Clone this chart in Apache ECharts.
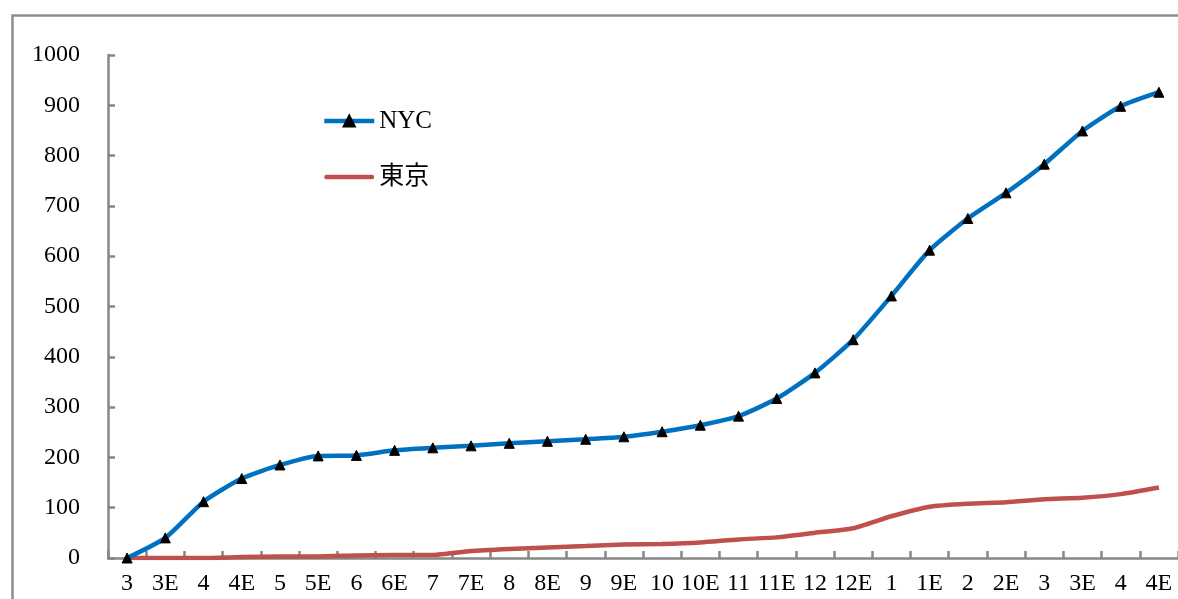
<!DOCTYPE html>
<html>
<head>
<meta charset="utf-8">
<style>
  html, body { margin: 0; padding: 0; background: #fff; }
  #chart { width: 1178px; height: 599px; }
</style>
<script src="https://cdn.jsdelivr.net/npm/echarts@6/dist/echarts.min.js"></script>
</head>
<body>
<div id="chart"></div>
<script>
// Month labels (E = end of month) spanning two years
const categories = ['3','3E','4','4E','5','5E','6','6E','7','7E','8','8E','9','9E','10','10E','11','11E','12','12E','1','1E','2','2E','3','3E','4','4E'];

// Cumulative counts per city
const nycValues = [0,40,112,158,185,203,204,214,219,223,228,232,236,241,251,264,282,317,368,434,521,612,675,726,783,849,898,926];
const tokyoValues = [0,0,0,2,3,3,5,6,6,14,18,21,24,27,28,31,37,41,50,59,83,102,108,111,117,120,127,140];

const seriesNames = ['NYC', '東京'];
const yTicks = { min: 0, max: 1000, interval: 100 };

const FONT = "'Liberation Serif', 'Times New Roman', 'Noto Sans CJK JP', serif";
const AXIS_GREY = '#878787';
const NYC_BLUE = '#0070C0';
const TOKYO_RED = '#C0504D';

const chart = echarts.init(document.getElementById('chart'), null, { renderer: 'canvas' });

chart.setOption({
  backgroundColor: '#fff',
  animation: false,
  graphic: [{
    type: 'rect',
    left: 10, top: 13,
    shape: { width: 1220, height: 700 },
    style: { fill: 'none', stroke: '#8e8e8e', lineWidth: 2.5 },
    silent: true,
    z: -1
  }],
  legend: {
    orient: 'vertical',
    left: 322,
    top: 107,
    padding: 0,
    itemWidth: 50,
    itemHeight: 14,
    itemGap: 28,
    lineStyle: { width: 4.5 },
    textStyle: { fontFamily: FONT, fontSize: 25, color: '#000', lineHeight: 28 },
    data: [
      { name: seriesNames[0] },
      { name: seriesNames[1], icon: 'path://M2,0 L48,0 A2,2 0 0 1 48,4.5 L2,4.5 A2,2 0 0 1 2,0 Z', itemStyle: { color: TOKYO_RED } }
    ]
  },
  grid: { left: 108, right: -2, top: 55, bottom: 41, containLabel: false },
  xAxis: {
    type: 'category',
    data: categories,
    boundaryGap: true,
    axisLine: { lineStyle: { color: AXIS_GREY, width: 2.5 } },
    axisTick: { show: true, inside: true, length: 7, lineStyle: { color: AXIS_GREY, width: 2.5 } },
    axisLabel: { interval: 0, margin: 14, fontFamily: FONT, fontSize: 24, color: '#000' },
    splitLine: { show: false }
  },
  yAxis: {
    type: 'value',
    min: yTicks.min,
    max: yTicks.max,
    interval: yTicks.interval,
    axisLine: { show: true, lineStyle: { color: AXIS_GREY, width: 2.5 } },
    axisTick: { show: true, inside: true, length: 7, lineStyle: { color: AXIS_GREY, width: 2.5 } },
    axisLabel: { margin: 28, fontFamily: FONT, fontSize: 24, color: '#000', formatter: v => String(v) },
    splitLine: { show: false }
  },
  series: [
    {
      name: seriesNames[0],
      type: 'line',
      data: nycValues,
      smooth: 0.2,
      symbol: 'triangle',
      symbolSize: 10,
      lineStyle: { color: NYC_BLUE, width: 4.5 },
      itemStyle: { color: '#000', borderColor: '#000', borderWidth: 1 },
      z: 3
    },
    {
      name: seriesNames[1],
      type: 'line',
      data: tokyoValues,
      smooth: 0.2,
      symbol: 'none',
      lineStyle: { color: TOKYO_RED, width: 4.5 },
      itemStyle: { color: TOKYO_RED },
      z: 2
    }
  ]
});
</script>
</body>
</html>
